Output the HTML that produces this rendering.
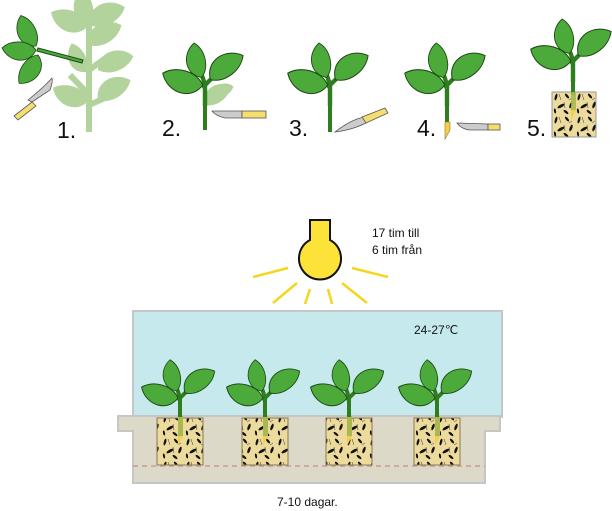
<!DOCTYPE html>
<html><head><meta charset="utf-8"><style>
html,body{margin:0;padding:0;background:#fff;}
svg{display:block;}
text{font-family:"Liberation Sans",sans-serif;fill:#111;}
</style></head><body>
<svg width="612" height="511" viewBox="0 0 612 511" xmlns="http://www.w3.org/2000/svg">
<defs>
<path id="leaf" d="M0,0 C6,-18 30,-18 40,-1 C30,10 10,11 0,0 Z"/>
<g id="plant">
  <path d="M0,0 L0,-19 Q-2,-26 -3,-28 M0,-19 Q3,-22 6,-25 M0,-16 L-2,-20" stroke="#2e7d1e" stroke-width="4" fill="none"/>
  <use href="#leaf" transform="translate(-3,-26) rotate(-101) scale(0.8)" fill="#4caa3a" stroke="#1e4a14" stroke-width="1"/>
  <use href="#leaf" transform="translate(-2,-19) rotate(-162) scale(0.95)" fill="#4caa3a" stroke="#1e4a14" stroke-width="1"/>
  <use href="#leaf" transform="translate(5,-24) rotate(-35) scale(0.92)" fill="#4caa3a" stroke="#1e4a14" stroke-width="1"/>
</g>
<g id="lplant">
  <use href="#leaf" transform="translate(0,0) rotate(-100) scale(0.9)" fill="#b3d39d"/>
  <use href="#leaf" transform="translate(0,0) rotate(-160) scale(1)" fill="#b3d39d"/>
  <use href="#leaf" transform="translate(0,0) rotate(-25) scale(1)" fill="#b3d39d"/>
</g>
<pattern id="chips" width="23" height="23" patternUnits="userSpaceOnUse">
  <rect width="23" height="23" fill="#ecdb9c"/>
  <g fill="#111">
    <ellipse cx="4" cy="5" rx="1.2" ry="3.5" transform="rotate(15 4 5)"/>
    <ellipse cx="15" cy="4" rx="1.2" ry="3" transform="rotate(-40 15 4)"/>
    <ellipse cx="19" cy="13" rx="1.3" ry="3.5" transform="rotate(20 19 13)"/>
    <ellipse cx="9" cy="14" rx="1.4" ry="4" transform="rotate(60 9 14)"/>
    <ellipse cx="3" cy="19" rx="1" ry="2.5" transform="rotate(-10 3 19)"/>
    <ellipse cx="14" cy="20" rx="1.2" ry="3" transform="rotate(-50 14 20)"/>
    <path d="M7,2 L9,8 M17,8 L20,6 M12,10 L13,16" stroke="#333" stroke-width="0.5"/>
  </g>
</pattern>
</defs>

<!-- Step 1 -->
<g>
  <path d="M89,132 L89,20 M89,95 L70,75 M89,70 L110,55 M89,105 L112,95" stroke="#b3d39d" stroke-width="6" fill="none"/>
  <use href="#lplant" transform="translate(89,25)"/>
  <use href="#leaf" transform="translate(89,100) rotate(-160) scale(0.95)" fill="#b3d39d"/>
  <use href="#leaf" transform="translate(86,72) rotate(-115) scale(0.8)" fill="#b3d39d"/>
  <use href="#leaf" transform="translate(98,70) rotate(-20) scale(0.95)" fill="#b3d39d"/>
  <use href="#leaf" transform="translate(98,100) rotate(-30) scale(0.95)" fill="#b3d39d"/>
  <use href="#leaf" transform="translate(89,45) rotate(-30) scale(0.95)" fill="#b3d39d"/>
  <path d="M38,48 L83,60 L82,63 L37,51 Z" fill="#4caa3a" stroke="#1e4a14" stroke-width="1"/>
  <use href="#leaf" transform="translate(36,46) rotate(-115) scale(0.85)" fill="#4caa3a" stroke="#1e4a14" stroke-width="1"/>
  <use href="#leaf" transform="translate(36,50) rotate(-175) scale(0.85)" fill="#4caa3a" stroke="#1e4a14" stroke-width="1"/>
  <use href="#leaf" transform="translate(38,55) rotate(125) scale(0.85)" fill="#4caa3a" stroke="#1e4a14" stroke-width="1"/>
  <path d="M32,102 L50,90 Q53,82 52,78 Q43,88 28,100 Z" fill="#ccc" stroke="#555" stroke-width="0.8"/>
  <path d="M14,116 L32,102 L36,106 L18,120 Z" fill="#f5dd6e" stroke="#555" stroke-width="0.8"/>
  <text x="57" y="138" font-size="23">1.</text>
</g>

<!-- Step 2 -->
<g>
  <use href="#leaf" transform="translate(205,105) rotate(-35) scale(0.8)" fill="#b3d39d"/>
  <use href="#leaf" transform="translate(212,97) rotate(-25) scale(0.6)" fill="#b3d39d"/>
  <path d="M205,130 L205,100" stroke="#2e7d1e" stroke-width="4"/>
  <use href="#plant" transform="translate(205,106) scale(1.1)"/>
  <path d="M212,111 L242,111 L242,118 L225,118 Q216,116 212,111 Z" fill="#ccc" stroke="#555" stroke-width="0.8"/>
  <rect x="242" y="111" width="24" height="7" fill="#f5dd6e" stroke="#555" stroke-width="0.8"/>
  <text x="162" y="136" font-size="23">2.</text>
</g>

<!-- Step 3 -->
<g>
  <path d="M330,132 L330,100" stroke="#2e7d1e" stroke-width="4"/>
  <use href="#plant" transform="translate(330,106) scale(1.1)"/>
  <path d="M335,132 Q350,120 364,117 L366,123 Q352,130 335,132 Z" fill="#ccc" stroke="#555" stroke-width="0.8"/>
  <path d="M362,117 L385,108 L388,113 L366,123 Z" fill="#f5dd6e" stroke="#555" stroke-width="0.8"/>
  <text x="289" y="136" font-size="23">3.</text>
</g>

<!-- Step 4 -->
<g>
  <path d="M447,125 L447,100" stroke="#2e7d1e" stroke-width="4"/>
  <use href="#plant" transform="translate(447,106) scale(1.1)"/>
  <path d="M445,122 L450,122 L450,130 L445,139 Z" fill="#f5cf4a" stroke="#8a7a30" stroke-width="0.6"/>
  <path d="M457,123 L488,124 L488,130 L470,130 Q461,129 457,123 Z" fill="#ccc" stroke="#555" stroke-width="0.8"/>
  <rect x="488" y="124" width="12" height="6" fill="#f5dd6e" stroke="#555" stroke-width="0.8"/>
  <text x="417" y="136" font-size="23">4.</text>
</g>

<!-- Step 5 -->
<g>
  <rect x="552" y="92" width="44" height="45" fill="url(#chips)" stroke="#999" stroke-width="1"/>
  <path d="M573,95 L573,80" stroke="#2e7d1e" stroke-width="4"/>
  <rect x="571" y="92" width="5" height="18" fill="#a9b850" opacity="0.9"/>
  <path d="M571,110 L576,110 L571,120 Z" fill="#f5cf4a"/>
  <use href="#plant" transform="translate(573,82) scale(1.1)"/>
  <text x="527" y="136" font-size="23">5.</text>
</g>

<!-- Lamp -->
<g stroke="#f5d51e" stroke-width="2.5">
  <line x1="253" y1="277" x2="288" y2="268"/>
  <line x1="273" y1="303" x2="297" y2="283"/>
  <line x1="305" y1="304" x2="310" y2="289"/>
  <line x1="328" y1="289" x2="332" y2="304"/>
  <line x1="342" y1="283" x2="367" y2="303"/>
  <line x1="352" y1="268" x2="388" y2="277"/>
</g>
<path d="M310,220 L330,220 L330,240 A21,21 0 1 1 310,240 Z" fill="#fde23a" stroke="#111" stroke-width="2"/>
<text x="372" y="237" font-size="12">17 tim till</text>
<text x="372" y="254" font-size="12">6 tim från</text>

<!-- Dome -->
<rect x="133" y="311" width="369" height="106" fill="#c5e9ec" stroke="#c6c6c6" stroke-width="2"/>
<text x="414" y="334" font-size="12">24-27℃</text>

<!-- Tray -->
<path d="M118,416 L500,416 L500,431 L485,431 L485,483 L133,483 L133,431 L118,431 Z" fill="#ddd9c8" stroke="#c6c6c6" stroke-width="2"/>
<line x1="133" y1="466" x2="485" y2="466" stroke="#c99a92" stroke-width="1.5" stroke-dasharray="5,4"/>

<g>
  <rect x="157" y="418" width="46" height="47" fill="url(#chips)" stroke="#8a7a50" stroke-width="1"/>
  <rect x="242" y="418" width="46" height="47" fill="url(#chips)" stroke="#8a7a50" stroke-width="1"/>
  <rect x="326" y="418" width="46" height="47" fill="url(#chips)" stroke="#8a7a50" stroke-width="1"/>
  <rect x="414" y="418" width="46" height="47" fill="url(#chips)" stroke="#8a7a50" stroke-width="1"/>
</g>
<g>
  <rect x="178" y="416" width="5" height="20" fill="#a9b850"/><path d="M178,436 L183,436 L178,446 Z" fill="#f5cf4a"/>
  <rect x="263" y="416" width="5" height="20" fill="#a9b850"/><path d="M263,436 L268,436 L263,446 Z" fill="#f5cf4a"/>
  <rect x="347" y="416" width="5" height="20" fill="#a9b850"/><path d="M347,436 L352,436 L347,446 Z" fill="#f5cf4a"/>
  <rect x="435" y="416" width="5" height="20" fill="#a9b850"/><path d="M435,436 L440,436 L435,446 Z" fill="#f5cf4a"/>
</g>
<use href="#plant" transform="translate(180,417)"/>
<use href="#plant" transform="translate(265,417)"/>
<use href="#plant" transform="translate(349,417)"/>
<use href="#plant" transform="translate(437,417)"/>

<text x="277" y="506" font-size="12">7-10 dagar.</text>
</svg>
</body></html>
